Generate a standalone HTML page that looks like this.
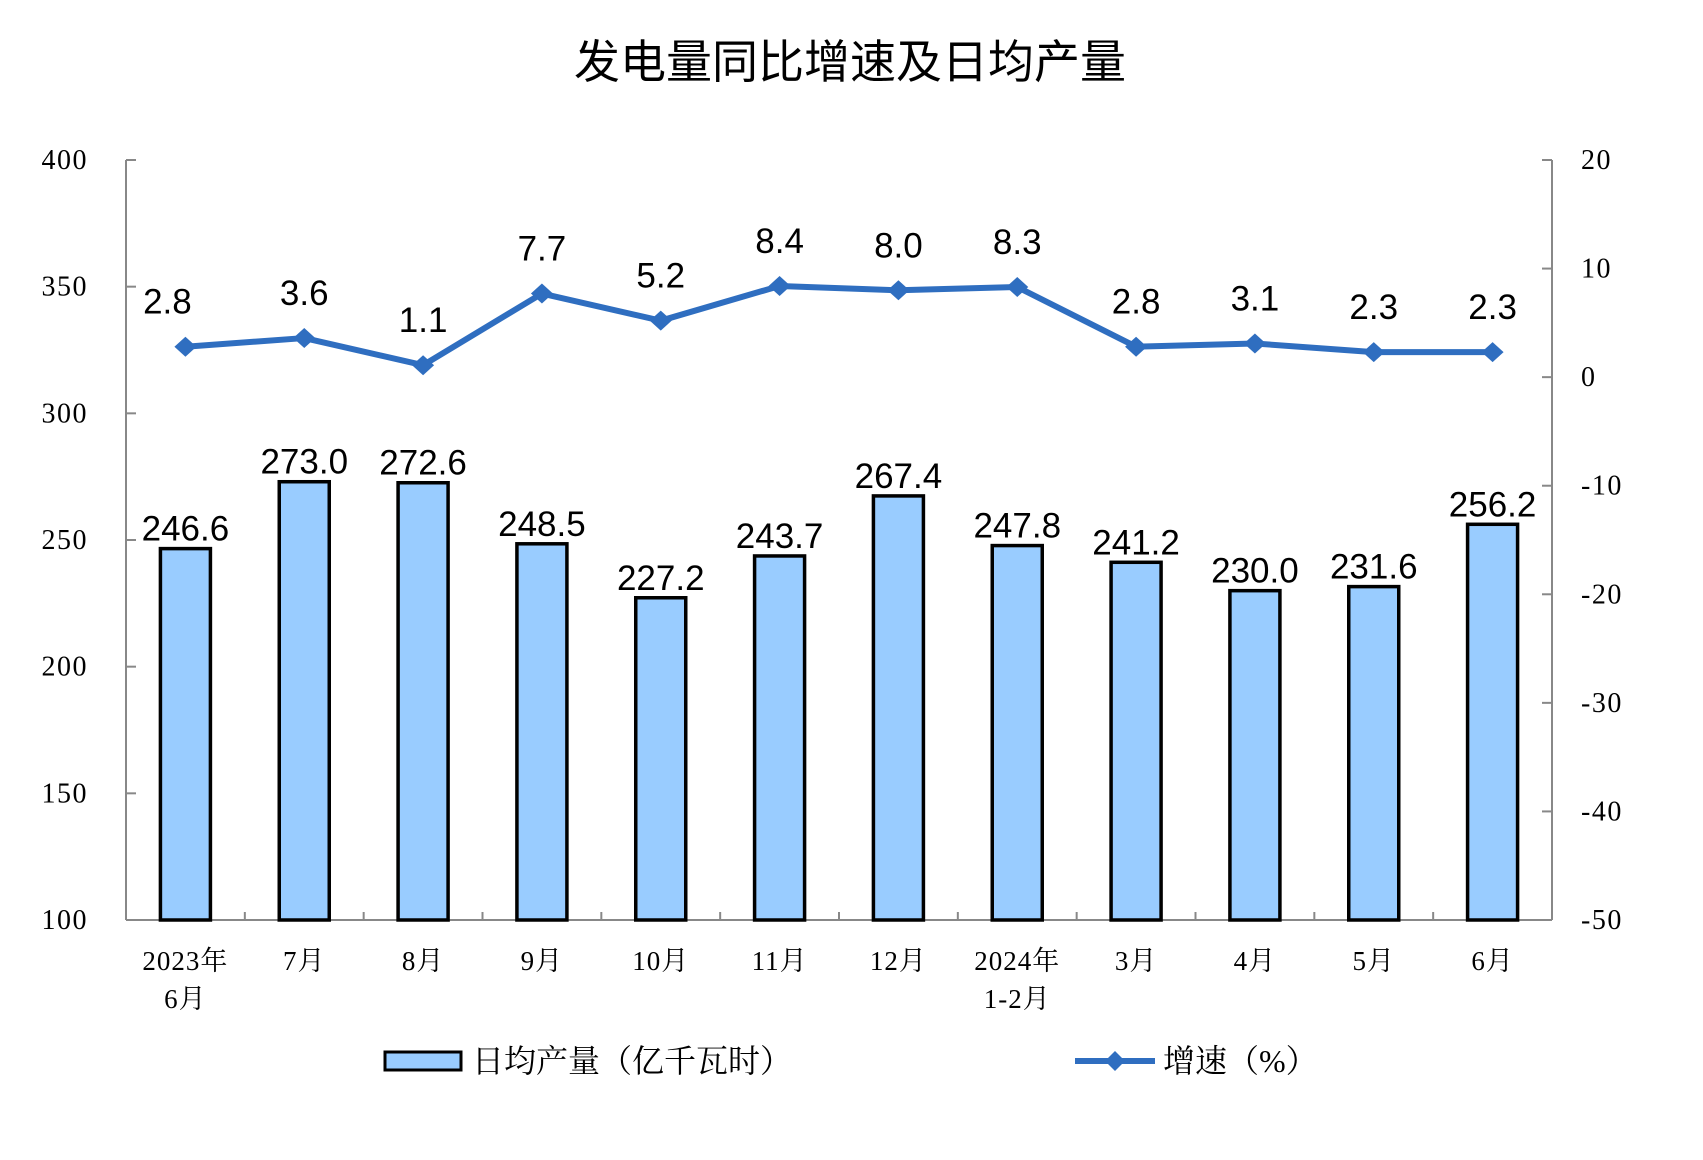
<!DOCTYPE html>
<html><head><meta charset="utf-8"><style>
body{margin:0;background:#fff;}
svg{display:block;}
.tick{font-family:"Liberation Serif","Noto Serif CJK SC",serif;font-size:28px;letter-spacing:1.5px;fill:#000;}
.xl{font-family:"Liberation Serif","Noto Serif CJK SC",serif;font-size:27px;letter-spacing:1px;fill:#000;}
.dl{font-family:"Liberation Sans","Noto Sans CJK SC",sans-serif;font-size:35px;fill:#000;}
</style></head><body>
<svg id="chart" width="1703" height="1160" xmlns="http://www.w3.org/2000/svg">
<text x="850" y="78" text-anchor="middle" font-family="'Liberation Sans','Noto Sans CJK SC',sans-serif" font-size="46">发电量同比增速及日均产量</text>
<g id="axes"></g><g id="bars"></g><g id="line"></g>
<g>
<rect x="385" y="1052" width="76" height="18" fill="#99CCFF" stroke="#000" stroke-width="3"/>
<text x="472" y="1072" font-family="'Liberation Serif','Noto Serif CJK SC',serif" font-size="32">日均产量（亿千瓦时）</text>
<line x1="1075" y1="1061" x2="1155" y2="1061" stroke="#2F6EC0" stroke-width="6"/>
<path d="M1115 1051 L1125 1061 L1115 1071 L1105 1061 Z" fill="#2F6EC0"/>
<text x="1163" y="1072" font-family="'Liberation Serif','Noto Serif CJK SC',serif" font-size="32">增速（%）</text>
</g>
</svg>
<script>
const categories=["2023年|6月","7月","8月","9月","10月","11月","12月","2024年|1-2月","3月","4月","5月","6月"];
const output=[246.6,273.0,272.6,248.5,227.2,243.7,267.4,247.8,241.2,230.0,231.6,256.2];
const growth=[2.8,3.6,1.1,7.7,5.2,8.4,8.0,8.3,2.8,3.1,2.3,2.3];
const leftTicks=[100,150,200,250,300,350,400];
const rightTicks=[-50,-40,-30,-20,-10,0,10,20];

const NS="http://www.w3.org/2000/svg";
const X0=126,X1=1552,YT=160,YB=920;
const band=(X1-X0)/categories.length;
const xc=i=>X0+band*(i+0.5);
const yL=v=>YB-(v-100)/300*(YB-YT);
const yR=v=>YB-(v+50)/70*(YB-YT);
function mk(tag,attrs,parent,txt){const e=document.createElementNS(NS,tag);for(const k in attrs)e.setAttribute(k,attrs[k]);if(txt!==undefined)e.textContent=txt;parent.appendChild(e);return e;}
const axes=document.getElementById('axes'),bars=document.getElementById('bars'),line=document.getElementById('line');
let e;
e=mk('line',{x1:X0,y1:YT,x2:X0,y2:YB,stroke:'#888','stroke-width':2},axes);


e=mk('line',{x1:X1,y1:YT,x2:X1,y2:YB,stroke:'#888','stroke-width':2},axes);


e=mk('line',{x1:X0,y1:YB,x2:X1,y2:YB,stroke:'#888','stroke-width':2},axes);


leftTicks.forEach(v=>{const y=yL(v);
 e=mk('line',{x1:X0,y1:y,x2:X0+10,y2:y,stroke:'#888','stroke-width':2},axes);
 
 
 e=mk('text',{x:88,y:y+9,'text-anchor':'end',class:'tick'},axes,String(v));
 
 });
rightTicks.forEach(v=>{const y=yR(v);
 e=mk('line',{x1:X1-10,y1:y,x2:X1,y2:y,stroke:'#888','stroke-width':2},axes);
 
 
 e=mk('text',{x:1581,y:y+9,class:'tick'},axes,String(v));
 
 });
for(let i=1;i<categories.length;i++){
 e=mk('line',{x1:X0+band*i,y1:YB,x2:X0+band*i,y2:YB-8,stroke:'#888','stroke-width':2},axes);
 
 }
categories.forEach((c,i)=>{const parts=c.split('|');
 parts.forEach((p,j)=>{e=mk('text',{x:xc(i),y:970+j*38,'text-anchor':'middle',class:'xl'},axes,p);
 
 });});
output.forEach((v,i)=>{const y=yL(v);
 e=mk('rect',{x:xc(i)-25,y:y,width:50,height:YB-y,fill:'#99CCFF',stroke:'#000','stroke-width':3.5},bars);
 
 
 e=mk('text',{x:xc(i),y:y-8,'text-anchor':'middle',class:'dl'},bars,v.toFixed(1));
 
 });
const pts=growth.map((v,i)=>xc(i)+','+yR(v)).join(' ');
e=mk('polyline',{points:pts,fill:'none',stroke:'#2F6EC0','stroke-width':6,'stroke-linejoin':'round'},line);


growth.forEach((v,i)=>{const x=xc(i),y=yR(v);
 e=mk('path',{d:`M${x} ${y-10} L${x+11} ${y} L${x} ${y+10} L${x-11} ${y} Z`,fill:'#2F6EC0'},line);
 
 
 e=mk('text',{x:i===0?x-18:x,y:y-33,'text-anchor':'middle',class:'dl'},line,v.toFixed(1));
 
 });
</script>
</body></html>
